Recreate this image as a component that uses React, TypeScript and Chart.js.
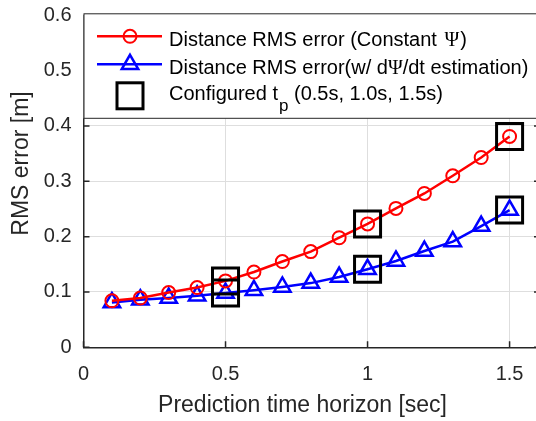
import React, { useEffect, useRef } from 'react';
import { Chart, registerables } from 'chart.js';

Chart.register(...registerables);

// ---- data ----
const horizonTimes = [0.1, 0.2, 0.3, 0.4, 0.5, 0.6, 0.7, 0.8, 0.9, 1.0, 1.1, 1.2, 1.3, 1.4, 1.5];
const rmsConstantPsi = [0.084, 0.089, 0.099, 0.108, 0.12, 0.136, 0.155, 0.173, 0.198, 0.223, 0.251, 0.278, 0.31, 0.343, 0.381];
const rmsDpsiEstimation = [0.081, 0.086, 0.089, 0.093, 0.098, 0.103, 0.109, 0.116, 0.127, 0.141, 0.156, 0.174, 0.191, 0.219, 0.248];
const configuredTimes = [0.5, 1.0, 1.5];

const xTickValues = [0, 0.5, 1, 1.5];
const xTickLabels = ['0', '0.5', '1', '1.5'];
const yTickValues = [0, 0.1, 0.2, 0.3, 0.4, 0.5, 0.6];
const yTickLabels = ['0', '0.1', '0.2', '0.3', '0.4', '0.5', '0.6'];

const xAxisTitle = 'Prediction time horizon [sec]';
const yAxisTitle = 'RMS error [m]';
const legendRow1 = ['Distance RMS error (Constant ', 'Ψ', ')'];
const legendRow2 = ['Distance RMS error(w/ d', 'Ψ', '/dt estimation)'];
const legendRow3 = ['Configured t', 'p', ' (0.5s, 1.0s, 1.5s)'];

const RED = '#ff0000';
const BLUE = '#0000ff';
const AXIS = '#262626';
const SANS = '"Liberation Sans", Arial, sans-serif';
const SERIF = '"Liberation Serif", "Times New Roman", serif';

function configuredPoints() {
  const pts: { x: number; y: number }[] = [];
  configuredTimes.forEach((t) => {
    const i = horizonTimes.findIndex((h) => Math.abs(h - t) < 1e-9);
    pts.push({ x: t, y: rmsConstantPsi[i] });
    pts.push({ x: t, y: rmsDpsiEstimation[i] });
  });
  return pts;
}

const decorPlugin = {
  id: 'decor',
  afterDraw(chart: any) {
    const { ctx, chartArea: a, scales } = chart;
    const xs = scales.x;
    const ys = scales.y;
    ctx.save();
    // inward tick marks
    ctx.strokeStyle = AXIS;
    ctx.lineWidth = 1.5;
    ctx.beginPath();
    yTickValues.forEach((v) => {
      const py = ys.getPixelForValue(v);
      ctx.moveTo(a.left, py);
      ctx.lineTo(a.left + 6, py);
      ctx.moveTo(a.right - 2, py);
      ctx.lineTo(a.right, py);
    });
    xTickValues.forEach((v) => {
      const px = xs.getPixelForValue(v);
      ctx.moveTo(px, a.bottom);
      ctx.lineTo(px, a.bottom - 6);
    });
    ctx.stroke();

    // axis titles
    ctx.fillStyle = AXIS;
    ctx.font = `23px ${SANS}`;
    ctx.textAlign = 'center';
    ctx.textBaseline = 'middle';
    ctx.fillText(xAxisTitle, 302.5, 406);
    ctx.save();
    ctx.translate(22, 163.5);
    ctx.rotate(-Math.PI / 2);
    ctx.fillText(yAxisTitle, 0, 0);
    ctx.restore();

    // legend box
    const lx = a.left;
    const ly = a.top - 2;
    ctx.fillStyle = '#ffffff';
    ctx.fillRect(lx, ly, chart.width - lx + 10, 105);
    ctx.strokeStyle = AXIS;
    ctx.lineWidth = 1;
    ctx.strokeRect(lx + 0.5, ly + 0.5, chart.width - lx + 10, 104.5);

    const mx = lx + 46.5;
    // row 1
    const r1 = ly + 23;
    ctx.strokeStyle = RED;
    ctx.lineWidth = 2.5;
    ctx.beginPath();
    ctx.moveTo(lx + 13.5, r1);
    ctx.lineTo(lx + 78.5, r1);
    ctx.stroke();
    ctx.lineWidth = 2;
    ctx.beginPath();
    ctx.arc(mx, r1, 6.5, 0, Math.PI * 2);
    ctx.stroke();
    // row 2
    const r2 = ly + 51;
    ctx.strokeStyle = BLUE;
    ctx.lineWidth = 2.5;
    ctx.beginPath();
    ctx.moveTo(lx + 13.5, r2);
    ctx.lineTo(lx + 78.5, r2);
    ctx.stroke();
    ctx.beginPath();
    const tr = 9.5;
    ctx.moveTo(mx, r2 - tr);
    ctx.lineTo(mx + tr * Math.sin((2 * Math.PI) / 3), r2 + tr / 2);
    ctx.lineTo(mx - tr * Math.sin((2 * Math.PI) / 3), r2 + tr / 2);
    ctx.closePath();
    ctx.stroke();
    // row 3
    const r3 = ly + 82.5;
    ctx.strokeStyle = '#000000';
    ctx.lineWidth = 3;
    ctx.strokeRect(mx - 13, r3 - 13, 26, 26);

    // legend text
    ctx.fillStyle = '#000000';
    ctx.textAlign = 'left';
    ctx.textBaseline = 'alphabetic';
    const tx = lx + 85.5;
    const drawParts = (parts: { t: string; f: string; dy: number; gap?: number }[], y: number) => {
      let x = tx;
      parts.forEach((p) => {
        ctx.font = p.f;
        x += p.gap || 0;
        ctx.fillText(p.t, x, y + p.dy);
        x += ctx.measureText(p.t).width;
      });
    };
    const mainF = `20px ${SANS}`;
    const psiF = `20px ${SERIF}`;
    drawParts(
      [
        { t: legendRow1[0], f: mainF, dy: 0 },
        { t: legendRow1[1], f: psiF, dy: 0, gap: 2 },
        { t: legendRow1[2], f: mainF, dy: 0, gap: 1 },
      ],
      ly + 33
    );
    drawParts(
      [
        { t: legendRow2[0], f: mainF, dy: 0 },
        { t: legendRow2[1], f: psiF, dy: 0 },
        { t: legendRow2[2], f: mainF, dy: 0 },
      ],
      ly + 61
    );
    drawParts(
      [
        { t: legendRow3[0], f: mainF, dy: 0 },
        { t: legendRow3[1], f: `17px ${SANS}`, dy: 11, gap: 1 },
        { t: legendRow3[2], f: mainF, dy: 0 },
      ],
      ly + 86.5
    );
    ctx.restore();
  },
};

export default function App() {
  const canvasRef = useRef<HTMLCanvasElement | null>(null);

  useEffect(() => {
    const canvas = canvasRef.current;
    if (!canvas) return;
    Chart.defaults.font.family = SANS;
    const chart = new Chart(canvas, {
      type: 'line',
      data: {
        datasets: [
          {
            label: 'Configured tp',
            data: configuredPoints(),
            showLine: false,
            pointStyle: 'rect',
            pointRadius: 18.4,
            pointBorderWidth: 3,
            pointBorderColor: '#000000',
            pointBackgroundColor: 'rgba(0,0,0,0)',
            borderColor: '#000000',
            order: 0,
          },
          {
            label: 'Distance RMS error (Constant Ψ)',
            data: horizonTimes.map((t, i) => ({ x: t, y: rmsConstantPsi[i] })),
            borderColor: RED,
            borderWidth: 2.5,
            pointStyle: 'circle',
            pointRadius: 6.5,
            pointBorderWidth: 2,
            pointBorderColor: RED,
            pointBackgroundColor: 'rgba(0,0,0,0)',
            tension: 0,
            order: 1,
          },
          {
            label: 'Distance RMS error(w/ dΨ/dt estimation)',
            data: horizonTimes.map((t, i) => ({ x: t, y: rmsDpsiEstimation[i] })),
            borderColor: BLUE,
            borderWidth: 2.5,
            pointStyle: 'triangle',
            pointRadius: 9.5,
            pointBorderWidth: 2.5,
            pointBorderColor: BLUE,
            pointBackgroundColor: 'rgba(0,0,0,0)',
            tension: 0,
            order: 2,
          },
        ],
      },
      options: {
        responsive: false,
        animation: false,
        events: [],
        layout: { autoPadding: false, padding: { top: 15.3, left: 0, right: 0, bottom: 0 } },
        plugins: { legend: { display: false }, tooltip: { enabled: false } },
        scales: {
          x: {
            type: 'linear',
            min: 0,
            max: 1.593,
            afterBuildTicks: (s: any) => {
              s.ticks = xTickValues.map((v) => ({ value: v }));
            },
            afterFit: (s: any) => {
              s.height = 421 - 347.3;
              s.paddingLeft = 0;
              s.paddingRight = 0;
            },
            ticks: {
              padding: 15,
              color: AXIS,
              font: { size: 20, family: SANS },
              callback: (_v: any, i: number) => xTickLabels[i],
              maxRotation: 0,
            },
            grid: { color: '#dedede', lineWidth: 1, drawTicks: false },
            border: { display: true, color: AXIS, width: 1.5 },
          },
          y: {
            type: 'linear',
            min: 0,
            max: 0.6,
            afterBuildTicks: (s: any) => {
              s.ticks = yTickValues.map((v) => ({ value: v }));
            },
            afterFit: (s: any) => {
              s.width = 83.5;
              s.paddingTop = 0;
              s.paddingBottom = 0;
            },
            ticks: {
              padding: 12,
              color: AXIS,
              font: { size: 20, family: SANS },
              callback: (_v: any, i: number) => yTickLabels[i],
            },
            grid: { color: '#dedede', lineWidth: 1, drawTicks: false },
            border: { display: true, color: AXIS, width: 1.5 },
          },
        },
      },
      plugins: [decorPlugin],
    });
    return () => chart.destroy();
  }, []);

  return (
    <div style={{ position: 'absolute', left: 0, top: 0, width: 536, height: 421, background: '#ffffff' }}>
      <canvas ref={canvasRef} width={536} height={421} />
    </div>
  );
}
